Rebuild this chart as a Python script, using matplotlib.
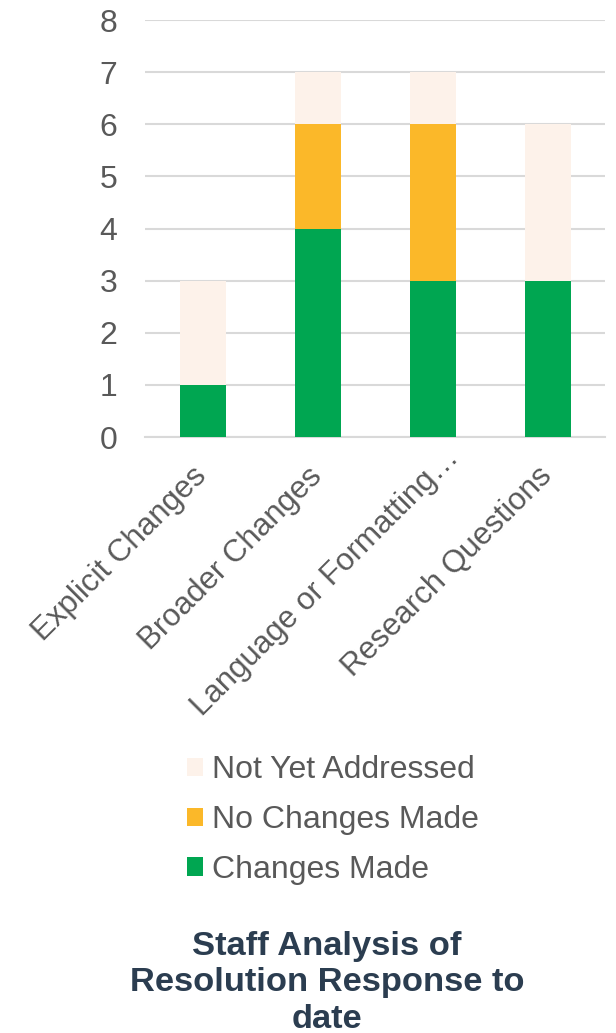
import matplotlib
matplotlib.use("Agg")
import matplotlib.pyplot as plt
import matplotlib.transforms as mtransforms
import numpy as np

categories = ["Explicit Changes", "Broader Changes", "Language or Formatting…", "Research Questions"]
changes_made = [1, 4, 3, 3]
no_changes_made = [0, 2, 3, 0]
not_yet_addressed = [2, 1, 1, 3]
series_names = ["Changes Made", "No Changes Made", "Not Yet Addressed"]
colors = ["#00A651", "#FBB829", "#FDF2EA"]
yticks = list(range(0, 9))

plt.rcParams['font.family'] = ['Liberation Sans', 'DejaVu Sans']
W, H = 616, 1033
fig = plt.figure(figsize=(W / 100, H / 100), dpi=100)
ax = fig.add_axes([145 / W, 1 - 437 / H, (605 - 145) / W, (437 - 20) / H])

x = np.arange(len(categories))
bottom = np.zeros(len(categories))
handles = []
for vals, name, c in zip([changes_made, no_changes_made, not_yet_addressed], series_names, colors):
    b = ax.bar(x, vals, bottom=bottom, width=0.4, color=c, label=name, zorder=3)
    handles.append(b)
    bottom += np.array(vals)

ax.set_xlim(-0.5, len(categories) - 0.5)
ax.set_ylim(0, 8)
ax.set_yticks(yticks)
ax.yaxis.grid(True, color="#D9D9D9", linewidth=1.5, zorder=0)
ax.set_axisbelow(True)
for s in ["top", "right", "left"]:
    ax.spines[s].set_visible(False)
ax.spines["bottom"].set_color("#D9D9D9")
ax.spines["bottom"].set_linewidth(1.5)
ax.tick_params(axis="both", length=0, colors="#595959")
ax.tick_params(axis="y", pad=20, labelsize=23)
ax.set_xticks(x)
labels = ax.set_xticklabels(categories, rotation=45, ha="right", va="center", rotation_mode="anchor", fontsize=22.5)
ax.tick_params(axis="x", pad=25)
# truncated label sits further along its own direction
off = mtransforms.ScaledTranslation(22 / 100, 18 / 100, fig.dpi_scale_trans)
labels[2].set_transform(labels[2].get_transform() + off)

leg = fig.legend(handles[::-1], series_names[::-1], loc="center", bbox_to_anchor=(333 / W, 1 - 820 / H),
                 frameon=False, fontsize=23, handlelength=0.5, handleheight=0.5, handletextpad=0.3,
                 labelspacing=0.62, labelcolor="#595959")

fig.text(327 / W, 1 - 983 / H, "Staff Analysis of\nResolution Response to\ndate", ha="center", va="center",
         fontsize=24.8, fontweight="bold", color="#2B3D50", linespacing=1.23)

fig.savefig("out.png", dpi=100)
